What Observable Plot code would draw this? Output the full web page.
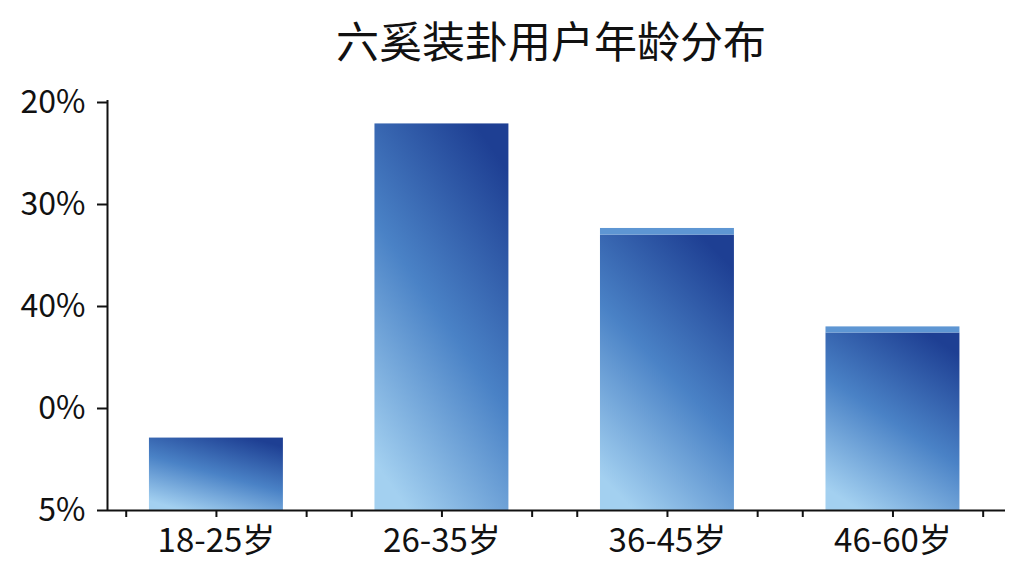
<!DOCTYPE html>
<html>
<head>
<meta charset="utf-8">
<script src="https://cdn.jsdelivr.net/npm/d3@7"></script>
<script src="https://cdn.jsdelivr.net/npm/@observablehq/plot@0.6"></script>
<style>
  html, body { margin: 0; padding: 0; background: #ffffff; width: 1024px; height: 576px; overflow: hidden; }
  #title { position: relative; height: 60px; }
  #title span { position: absolute; left: 551px; top: 39px; transform: translate(-50%, -50%);
    font-family: "Noto Sans CJK SC", sans-serif; font-size: 43px; color: #111; white-space: nowrap; }
</style>
</head>
<body>
<div id="title"><span>六奚装卦用户年龄分布</span></div>
<div id="chart"></div>
<script>
// Categories and values (values in axis units: one unit per labelled tick step)
const categories = ["18-25岁", "26-35岁", "36-45岁", "46-60岁"];
const values = [0.71, 3.79, 2.70, 1.74];
const caps = [0, 0, 0.065, 0.06];          // lighter strip on top of some bars
const yTickValues = [0, 1, 2, 3, 4];
const yTickLabels = ["5%", "0%", "40%", "30%", "20%"];
const barHalfWidth = 0.297;
const minorOffset = 0.4;

const data = categories.map((c, i) => ({i, category: c, value: values[i], cap: caps[i]}));
const xTicks = categories.flatMap((c, i) => [i - minorOffset, i, i + minorOffset]);

const plot = Plot.plot({
  width: 1024,
  height: 516,
  marginTop: 42,
  marginBottom: 66,
  marginLeft: 107,
  marginRight: 19,
  x: {domain: [-0.483, 3.499]},
  y: {domain: [0, 4]},
  style: {fontFamily: '"Noto Sans CJK SC", sans-serif', fontSize: "31px", color: "#111", background: "white", overflow: "visible"},
  marks: [
    Plot.rectY(data, {x1: d => d.i - barHalfWidth, x2: d => d.i + barHalfWidth, y1: 0, y2: "value", fill: "url(#barGrad)"}),
    Plot.rectY(data.filter(d => d.cap > 0), {x1: d => d.i - barHalfWidth, x2: d => d.i + barHalfWidth, y1: "value", y2: d => d.value + d.cap, fill: "#5e96d3"}),
    Plot.axisY({ticks: yTickValues, tickFormat: v => yTickLabels[yTickValues.indexOf(v)], tickSize: 10, tickPadding: 12, strokeWidth: 2, fontSize: 32, label: null}),
    Plot.axisX({ticks: xTicks, tickFormat: () => "", tickSize: 7, strokeWidth: 2, label: null}),
    Plot.axisX({ticks: categories.map((c, i) => i), tickFormat: i => categories[i], tickSize: 0, tickPadding: 18, fontSize: 33, label: null}),
    Plot.ruleX([-0.483], {y1: 0, y2: 4.02, stroke: "#111", strokeWidth: 2}),
    Plot.ruleY([0], {stroke: "#111", strokeWidth: 2})
  ]
});

const svg = d3.select(plot);
const defs = svg.insert("defs", ":first-child");
const grad = defs.append("linearGradient").attr("id", "barGrad")
  .attr("x1", 0.25).attr("y1", 1).attr("x2", 0.75).attr("y2", 0);
grad.append("stop").attr("offset", "0%").attr("stop-color", "#a3d0f0");
grad.append("stop").attr("offset", "50%").attr("stop-color", "#4a82c6");
grad.append("stop").attr("offset", "100%").attr("stop-color", "#1e3f93");

document.getElementById("chart").appendChild(plot);
</script>
</body>
</html>
